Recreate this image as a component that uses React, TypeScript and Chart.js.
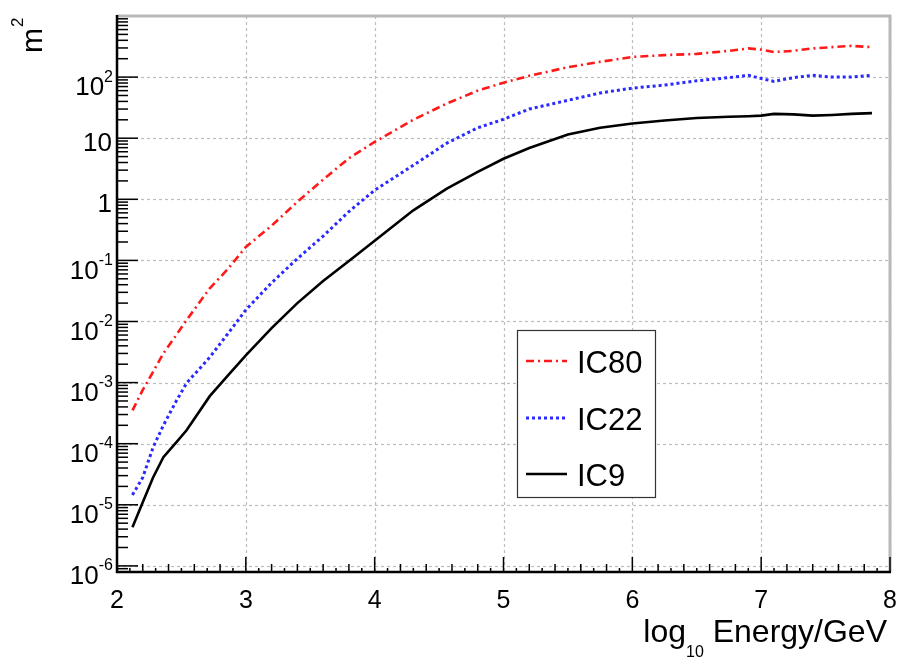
import React, { useEffect, useRef } from 'react';
import { Chart, registerables } from 'chart.js';
Chart.register(...registerables);

// log10(Energy/GeV)
const energy = [2.12, 2.2, 2.28, 2.36, 2.46, 2.54, 2.72, 2.86, 3.0, 3.2, 3.4, 3.6, 3.8, 4.0, 4.3, 4.56, 4.8, 5.0, 5.2, 5.5, 5.75, 6.0, 6.25, 6.5, 6.75, 6.9, 7.0, 7.1, 7.25, 7.4, 7.55, 7.7, 7.86];
// effective area, m^2
const ic80 = [3.5e-4, 7.6e-4, 1.5e-3, 3.0e-3, 6.0e-3, 0.0105, 0.035, 0.072, 0.166, 0.37, 0.91, 2.1, 4.7, 8.7, 20, 37, 60, 81, 105, 145, 178, 214, 229, 240, 269, 295, 282, 257, 269, 295, 309, 324, 309];
const ic22 = [1.45e-5, 2.8e-5, 8.7e-5, 2.0e-4, 5.0e-4, 9.8e-4, 2.6e-3, 6.3e-3, 0.0155, 0.043, 0.107, 0.25, 0.63, 1.41, 3.6, 8.3, 14.8, 20.4, 30, 41.7, 55, 66, 74, 87, 98, 107, 95, 85, 98, 107, 100, 100, 107];
const ic9 = [4.3e-6, 1.1e-5, 2.8e-5, 6.0e-5, 1.05e-4, 1.66e-4, 6.0e-4, 1.3e-3, 2.8e-3, 7.8e-3, 0.02, 0.046, 0.098, 0.21, 0.66, 1.5, 2.8, 4.6, 6.9, 11.5, 14.8, 17.4, 19.5, 21.4, 22.4, 22.9, 23.4, 25, 24.5, 23.4, 24, 25, 25.7];

const seriesNames = ['IC80', 'IC22', 'IC9'];
const xMajorTicks = [2, 3, 4, 5, 6, 7, 8];
const yDecades = [-6, -5, -4, -3, -2, -1, 0, 1, 2];
const xTitleMain = 'log';
const xTitleSub = '10';
const xTitleRest = ' Energy/GeV';
const yTitleMain = 'm';
const yTitleSup = '2';

const FONT = '"Liberation Sans", Arial, Helvetica, sans-serif';

const framePlugin = {
  id: 'rootFrame',
  beforeDatasetsDraw(chart: any) {
    const { ctx, chartArea: a, scales } = chart;
    const xs = scales.x, ys = scales.y;
    ctx.save();
    ctx.strokeStyle = '#bdbdbd';
    ctx.lineWidth = 1.2;
    ctx.setLineDash([3, 3]);
    for (const v of xMajorTicks) {
      const px = Math.round(xs.getPixelForValue(v)) + 0.5;
      ctx.beginPath(); ctx.moveTo(px, a.top); ctx.lineTo(px, a.bottom); ctx.stroke();
    }
    for (const e of yDecades) {
      const py = Math.round(ys.getPixelForValue(Math.pow(10, e))) + 0.5;
      ctx.beginPath(); ctx.moveTo(a.left, py); ctx.lineTo(a.right, py); ctx.stroke();
    }
    ctx.restore();
  },
  afterDraw(chart: any) {
    const { ctx, chartArea: a, scales } = chart;
    const xs = scales.x, ys = scales.y;
    ctx.save();
    ctx.setLineDash([]);
    // frame
    ctx.strokeStyle = '#b8b8b8';
    ctx.lineWidth = 3;
    ctx.beginPath(); ctx.moveTo(a.left, a.top); ctx.lineTo(a.right, a.top); ctx.lineTo(a.right, a.bottom); ctx.stroke();
    ctx.strokeStyle = '#000';
    ctx.lineWidth = 2.5;
    ctx.beginPath(); ctx.moveTo(a.left, a.top - 1); ctx.lineTo(a.left, a.bottom); ctx.lineTo(a.right + 1, a.bottom); ctx.stroke();

    // y ticks
    ctx.lineWidth = 1.5;
    for (let e = -7; e <= 2; e++) {
      for (let m = 1; m <= 9; m++) {
        const v = m * Math.pow(10, e);
        if (v < ys.min || v > ys.max) continue;
        const py = ys.getPixelForValue(v);
        const len = m === 1 ? 21 : 11;
        ctx.beginPath(); ctx.moveTo(a.left, py); ctx.lineTo(a.left + len, py); ctx.stroke();
      }
    }
    // x ticks
    for (let i = 0; i <= 60; i++) {
      const v = 2 + i * 0.1;
      const px = xs.getPixelForValue(v);
      const len = i % 10 === 0 ? 15 : i % 2 === 0 ? 8 : 4;
      ctx.beginPath(); ctx.moveTo(px, a.bottom); ctx.lineTo(px, a.bottom - len); ctx.stroke();
    }

    // x labels
    ctx.fillStyle = '#000';
    ctx.textAlign = 'center';
    ctx.textBaseline = 'middle';
    ctx.font = `25px ${FONT}`;
    for (const v of xMajorTicks) {
      ctx.fillText(String(v), xs.getPixelForValue(v), 601);
    }

    // y labels
    const rightEdge = a.left - 4;
    for (const e of yDecades) {
      const py = ys.getPixelForValue(Math.pow(10, e));
      if (e === 0 || e === 1) {
        ctx.font = `26px ${FONT}`;
        ctx.textAlign = 'right';
        ctx.fillText(e === 0 ? '1' : '10', rightEdge - 1, py + 6);
      } else {
        const sup = String(e);
        ctx.font = `16px ${FONT}`;
        const sw = ctx.measureText(sup).width;
        ctx.textAlign = 'right';
        ctx.fillText(sup, rightEdge, py);
        ctx.font = `26px ${FONT}`;
        ctx.fillText('10', rightEdge - sw, py + 11);
      }
    }

    // x title
    ctx.textBaseline = 'alphabetic';
    ctx.textAlign = 'left';
    ctx.font = `32px ${FONT}`;
    const wMain = ctx.measureText(xTitleMain).width;
    const wRest = ctx.measureText(xTitleRest).width;
    ctx.font = `16px ${FONT}`;
    const wSub = ctx.measureText(xTitleSub).width;
    const xEnd = a.right - 3;
    const xStart = xEnd - wRest - wSub - wMain;
    const base = 642;
    ctx.font = `32px ${FONT}`;
    ctx.fillText(xTitleMain, xStart, base);
    ctx.fillText(xTitleRest, xStart + wMain + wSub, base);
    ctx.font = `16px ${FONT}`;
    ctx.fillText(xTitleSub, xStart + wMain, base + 15);

    // y title
    ctx.save();
    ctx.translate(42, 53);
    ctx.rotate(-Math.PI / 2);
    ctx.font = `30px ${FONT}`;
    const mw = ctx.measureText(yTitleMain).width;
    ctx.fillText(yTitleMain, 0, 0);
    ctx.font = `17px ${FONT}`;
    ctx.fillText(yTitleSup, mw + 1, -19);
    ctx.restore();

    // legend
    const lx = 517, ly = 330, lw = 138, lh = 167;
    ctx.fillStyle = '#fff';
    ctx.fillRect(lx, ly, lw, lh);
    ctx.strokeStyle = '#333';
    ctx.lineWidth = 1.2;
    ctx.strokeRect(lx + 0.5, ly + 0.5, lw, lh);
    const rows = [361, 418, 474];
    chart.data.datasets.forEach((ds: any, i: number) => {
      const y = rows[i];
      ctx.strokeStyle = ds.borderColor;
      ctx.lineWidth = ds.borderWidth;
      ctx.setLineDash(ds.borderDash || []);
      ctx.beginPath(); ctx.moveTo(526, y); ctx.lineTo(567, y); ctx.stroke();
      ctx.setLineDash([]);
      ctx.fillStyle = '#000';
      ctx.font = `31px ${FONT}`;
      ctx.textBaseline = 'middle';
      ctx.textAlign = 'left';
      ctx.fillText(ds.label, 577, y + 3);
    });
    ctx.restore();
  },
};

export default function App() {
  const ref = useRef<HTMLCanvasElement>(null);
  useEffect(() => {
    const canvas = ref.current;
    if (!canvas) return;
    const toPts = (ys: number[]) => energy.map((x, i) => ({ x, y: ys[i] }));
    const chart = new Chart(canvas, {
      type: 'line',
      data: {
        datasets: [
          { label: seriesNames[0], data: toPts(ic80), borderColor: '#ff1a1a', borderWidth: 2.6, borderDash: [8, 4, 2, 4], pointRadius: 0, fill: false, tension: 0 },
          { label: seriesNames[1], data: toPts(ic22), borderColor: '#2a2aff', borderWidth: 3, borderDash: [3, 3], pointRadius: 0, fill: false, tension: 0 },
          { label: seriesNames[2], data: toPts(ic9), borderColor: '#000000', borderWidth: 2.6, pointRadius: 0, fill: false, tension: 0 },
        ],
      },
      options: {
        responsive: false,
        animation: false,
        events: [],
        layout: { padding: { left: 0, top: 16, right: 11, bottom: 0 } },
        plugins: { legend: { display: false }, tooltip: { enabled: false } },
        scales: {
          x: {
            type: 'linear',
            min: 2,
            max: 8,
            grid: { display: false },
            border: { display: false },
            ticks: { display: false },
            afterFit: (s: any) => { s.height = 89; },
          },
          y: {
            type: 'logarithmic',
            min: Math.pow(10, -6.1),
            max: 1000,
            grid: { display: false },
            border: { display: false },
            ticks: { display: false },
            afterFit: (s: any) => { s.width = 117; },
          },
        },
      },
      plugins: [framePlugin],
    } as any);
    return () => chart.destroy();
  }, []);
  return (
    <div style={{ position: 'absolute', left: 0, top: 0, width: 901, height: 661, background: '#fff' }}>
      <canvas ref={ref} width={901} height={661} style={{ display: 'block', width: 901, height: 661 }} />
    </div>
  );
}
